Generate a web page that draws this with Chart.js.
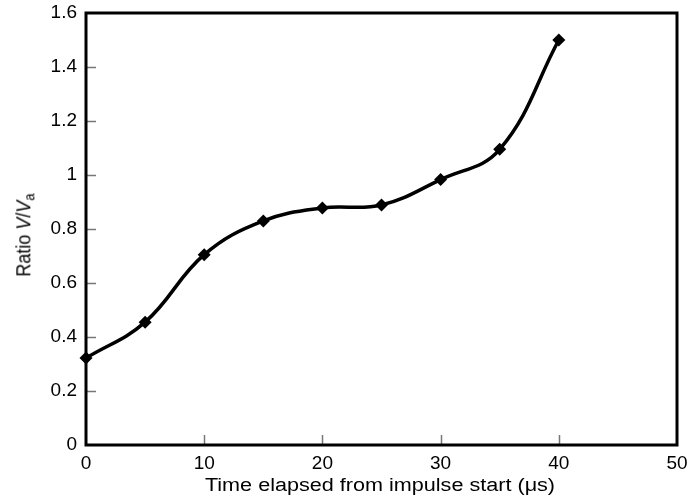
<!DOCTYPE html>
<html>
<head>
<meta charset="utf-8">
<script src="https://cdn.jsdelivr.net/npm/chart.js@4.4.1/dist/chart.umd.min.js"></script>
<style>
    html, body { margin: 0; padding: 0; background: #fff; }
    #wrap { position: relative; width: 695px; height: 498px; }
    .axisTitle {
        position: absolute;
        font-family: "Liberation Sans", Arial, sans-serif;
        font-size: 18px;
        color: #000;
        white-space: nowrap;
    }
    #yTitle { left: 25px; top: 235px; transform: translate(-50%, -50%) rotate(-90deg) scaleY(1.15); }
    #xTitle { left: 380px; top: 485px; transform: translate(-50%, -50%) scaleX(1.2); }
    #yTitle sub { font-size: 13px; vertical-align: -3px; }
</style>
</head>
<body>
<div id="wrap">
    <canvas id="chart" width="695" height="498"></canvas>
    <div id="yTitle" class="axisTitle">Ratio <i>V</i>/<i>V</i><sub>a</sub></div>
    <div id="xTitle" class="axisTitle">Time elapsed from impulse start (μs)</div>
</div>
<script>
const timeUs = [0, 5, 10, 15, 20, 25, 30, 35, 40];
const ratio = [0.322, 0.455, 0.705, 0.83, 0.878, 0.889, 0.983, 1.095, 1.5];
const xTicks = [0, 10, 20, 30, 40, 50];
const yTicks = [0, 0.2, 0.4, 0.6, 0.8, 1, 1.2, 1.4, 1.6];

// frame + inward ticks like the original plot
const frameTicks = {
    id: 'frameTicks',
    afterDatasetsDraw(chart) {
        const ctx = chart.ctx;
        const a = chart.chartArea;
        const xs = chart.scales.x, ys = chart.scales.y;
        ctx.save();
        ctx.strokeStyle = '#777';
        ctx.lineWidth = 1.5;
        ctx.beginPath();
        xTicks.slice(1, -1).forEach(function (v) {
            const px = Math.round(xs.getPixelForValue(v)) + 0.5;
            ctx.moveTo(px, a.bottom);
            ctx.lineTo(px, a.bottom - 10);
        });
        yTicks.slice(1, -1).forEach(function (v) {
            const py = Math.round(ys.getPixelForValue(v)) + 0.5;
            ctx.moveTo(a.left, py);
            ctx.lineTo(a.left + 10, py);
        });
        ctx.stroke();
        ctx.strokeStyle = '#000';
        ctx.lineWidth = 3;
        ctx.strokeRect(a.left, a.top, a.right - a.left, a.bottom - a.top);
        ctx.restore();
    },
};

new Chart(document.getElementById('chart'), {
    type: 'line',
    data: {
        datasets: [{
            data: timeUs.map(function (t, i) { return { x: t, y: ratio[i] }; }),
            borderColor: '#000',
            backgroundColor: '#000',
            borderWidth: 3.5,
            tension: 0.4,
            pointStyle: 'rectRot',
            pointRadius: 6.5,
            pointBackgroundColor: '#000',
            pointBorderWidth: 0,
            clip: false,
        }],
    },
    options: {
        responsive: false,
        animation: false,
        layout: { padding: { top: 13, right: 18, left: 0, bottom: 0 } },
        plugins: { legend: { display: false }, tooltip: { enabled: false } },
        scales: {
            x: {
                type: 'linear',
                min: 0,
                max: 50,
                afterBuildTicks(scale) { scale.ticks = xTicks.map(function (v) { return { value: v }; }); },
                afterFit(scale) {
                    scale.height = 53;
                    scale.paddingLeft = 0;
                    scale.paddingRight = 0;
                },
                grid: { display: false, drawTicks: false },
                border: { display: false },
                ticks: {
                    padding: 7,
                    color: '#000',
                    font: { family: '"Liberation Sans", Arial, sans-serif', size: 19 },
                    maxRotation: 0,
                },
            },
            y: {
                type: 'linear',
                min: 0,
                max: 1.6,
                afterBuildTicks(scale) { scale.ticks = yTicks.map(function (v) { return { value: v }; }); },
                afterFit(scale) {
                    scale.width = 86;
                    scale.paddingTop = 0;
                    scale.paddingBottom = 0;
                },
                grid: { display: false, drawTicks: false },
                border: { display: false },
                ticks: {
                    padding: 9,
                    color: '#000',
                    font: { family: '"Liberation Sans", Arial, sans-serif', size: 19 },
                    callback: function (v) { return String(Math.round(v * 10) / 10); },
                },
            },
        },
    },
    plugins: [frameTicks],
});
</script>
</body>
</html>
